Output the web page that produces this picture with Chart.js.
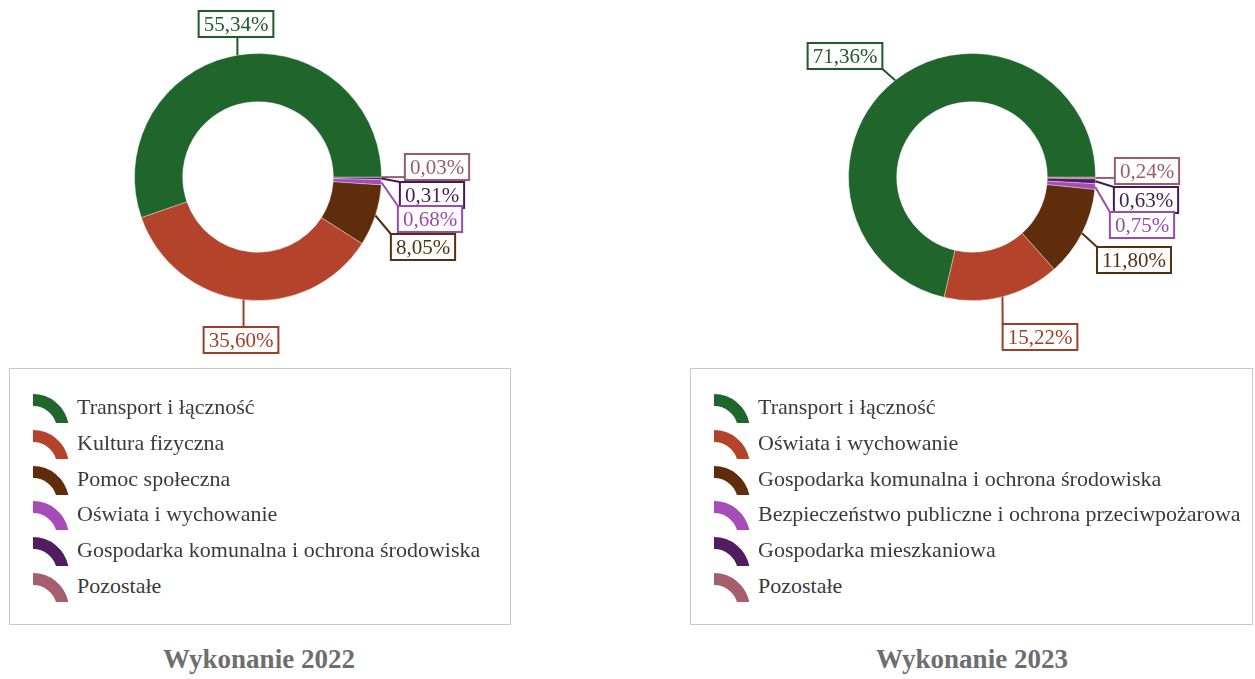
<!DOCTYPE html>
<html>
<head>
<meta charset="utf-8">
<script src="https://cdn.jsdelivr.net/npm/chart.js@4.4.1/dist/chart.umd.min.js"></script>
<style>
    body { margin: 0; background: #fff; font-family: "Liberation Serif", "DejaVu Serif", serif; }
    .donut { position: absolute; top: 0; }
    .legend {
        position: absolute; top: 368px; height: 257px;
        border: 1.5px solid #c9c9c9; box-sizing: border-box;
    }
    .legend .row { position: absolute; left: 20px; height: 36px; display: flex; align-items: center; }
    .legend canvas { margin-right: 5px; }
    .legend span { font-size: 22px; color: #3a3a3a; white-space: nowrap; }
    .title {
        position: absolute; top: 644px; width: 300px; text-align: center;
        font-weight: bold; font-size: 27px; color: #6e6e6e;
    }
</style>
</head>
<body>
<canvas id="chart2022" class="donut" style="left:0px" width="520" height="365"></canvas>
<canvas id="chart2023" class="donut" style="left:600px" width="655" height="365"></canvas>
<div id="legend2022" class="legend" style="left:9px;width:502px"></div>
<div id="legend2023" class="legend" style="left:690px;width:563px"></div>
<div class="title" style="left:109px">Wykonanie 2022</div>
<div class="title" style="left:822px">Wykonanie 2023</div>
<script>
// Data
const categories2022 = ['Transport i łączność', 'Kultura fizyczna', 'Pomoc społeczna',
    'Oświata i wychowanie', 'Gospodarka komunalna i ochrona środowiska', 'Pozostałe'];
const values2022 = [55.34, 35.60, 8.05, 0.68, 0.31, 0.03];

const categories2023 = ['Transport i łączność', 'Oświata i wychowanie',
    'Gospodarka komunalna i ochrona środowiska', 'Bezpieczeństwo publiczne i ochrona przeciwpożarowa',
    'Gospodarka mieszkaniowa', 'Pozostałe'];
const values2023 = [71.36, 15.22, 11.80, 0.75, 0.63, 0.24];

// Colours (same order as categories)
const sliceColors = ['#1f652c', '#b3432a', '#5f2d0c', '#a64cb8', '#521c61', '#a45e6e'];
const labelColors = ['#1f5a28', '#9c3f2a', '#55300f', '#9b4bb0', '#45195a', '#9a5b6e'];

// Callout box centres, relative to the doughnut centre
const offsets2022 = [[-22, -153], [-17, 163], [165, 70], [172, 42], [174, 18], [179, -10]];
const offsets2023 = [[-127, -121], [68, 160], [162, 83], [170, 48], [174, 23], [175, -6]];

function fmt(v) {
    return v.toFixed(2).replace('.', ',') + '%';
}

// Boxed percentage labels with leader lines
const calloutPlugin = {
    id: 'callouts',
    afterDatasetsDraw(chart, args, opts) {
        const ctx = chart.ctx;
        const meta = chart.getDatasetMeta(0);
        const n = meta.data.length;
        ctx.save();
        ctx.font = '21px "Liberation Serif"';
        ctx.textAlign = 'center';
        ctx.textBaseline = 'middle';
        meta.data.forEach((arc, i) => {
            const k = n - 1 - i; // data is drawn reversed
            const p = arc.getProps(['x', 'y', 'startAngle', 'endAngle', 'outerRadius'], true);
            const mid = (p.startAngle + p.endAngle) / 2;
            const ax = p.x + Math.cos(mid) * p.outerRadius;
            const ay = p.y + Math.sin(mid) * p.outerRadius;
            const text = fmt(opts.values[k]);
            const w = ctx.measureText(text).width + 10;
            const h = 26;
            const cx = p.x + opts.offsets[k][0];
            const cy = p.y + opts.offsets[k][1];
            const bx = cx - w / 2, by = cy - h / 2;
            const ex = Math.min(Math.max(ax, bx), bx + w);
            const ey = Math.min(Math.max(ay, by), by + h);
            const color = labelColors[k];
            ctx.strokeStyle = color;
            ctx.lineWidth = 2;
            ctx.beginPath();
            ctx.moveTo(ax, ay);
            ctx.lineTo(ex, ey);
            ctx.stroke();
            ctx.fillStyle = '#fff';
            ctx.fillRect(bx, by, w, h);
            ctx.strokeRect(bx, by, w, h);
            ctx.fillStyle = color;
            ctx.fillText(text, cx, cy + 1);
        });
        ctx.restore();
    }
};

function makeDonut(id, categories, values, offsets, padding) {
    const ctx = document.getElementById(id).getContext('2d');
    return new Chart(ctx, {
        type: 'doughnut',
        data: {
            labels: categories.slice().reverse(),
            datasets: [{
                data: values.slice().reverse(),
                backgroundColor: sliceColors.slice().reverse(),
                borderColor: 'rgba(255, 255, 255, 0.35)',
                borderWidth: 1
            }]
        },
        options: {
            responsive: false,
            animation: false,
            rotation: 90,
            cutout: '61%',
            layout: { padding: padding },
            plugins: {
                legend: { display: false },
                tooltip: { enabled: false },
                callouts: { values: values, offsets: offsets }
            }
        },
        plugins: [calloutPlugin]
    });
}

function makeLegend(id, categories) {
    const box = document.getElementById(id);
    categories.forEach((name, i) => {
        const row = document.createElement('div');
        row.className = 'row';
        row.style.top = (20 + i * 35.8) + 'px';
        const icon = document.createElement('canvas');
        icon.width = 42;
        icon.height = 32;
        const c = icon.getContext('2d');
        c.fillStyle = sliceColors[i];
        c.beginPath();
        c.arc(3, 39, 36, -Math.PI / 2, -0.2, false);
        c.arc(3, 39, 24, -0.2, -Math.PI / 2, true);
        c.closePath();
        c.fill();
        const label = document.createElement('span');
        label.textContent = name;
        row.appendChild(icon);
        row.appendChild(label);
        box.appendChild(row);
    });
}

makeDonut('chart2022', categories2022, values2022, offsets2022,
    { left: 134, right: 138, top: 53, bottom: 64 });
makeDonut('chart2023', categories2023, values2023, offsets2023,
    { left: 248, right: 159, top: 53, bottom: 64 });
makeLegend('legend2022', categories2022);
makeLegend('legend2023', categories2023);
</script>
</body>
</html>
